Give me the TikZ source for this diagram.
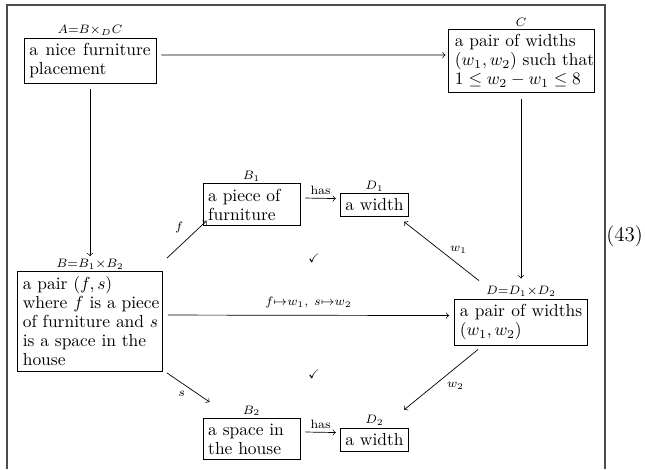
\documentclass[tikz,border=0pt]{standalone}
\usepackage{amsmath,amssymb}
\begin{document}
\begin{tikzpicture}[x=0.573pt,y=-0.573pt,
  box/.style={draw, inner xsep=3pt, inner ysep=3pt, font=\fontsize{10pt}{10.9pt}\selectfont},
  toplabel/.style={inner sep=1pt},
  arr/.style={->, line width=0.4pt},
  lab/.style={font=\scriptsize, inner sep=0pt, midway},
  frame/.style={draw=black!70, line width=0.6pt}]
\useasboundingbox (0,0) rectangle (645,469);
\draw[frame] (7,469) -- (7,5) -- (605,5) -- (605,469);

\node[box, text width=69.6pt, align=justify,
  label={[toplabel]above:$\scriptstyle A=B\times_D C$}] (A) at (90,60.5) {a nice furniture placement};
\node[box, text width=75.7pt, inner xsep=4pt, align=left,
  label={[toplabel]above:$\scriptstyle C$}] (C) at (521,61) {\mbox{a pair of widths}\\ \mbox{$(w_1,w_2)$ such that}\\ \mbox{$1\le w_2-w_1\le 8$}};
\node[box, text width=77pt, align=left,
  label={[toplabel]above:$\scriptstyle B=B_1\times B_2$}] (B) at (90,321.5) {\mbox{a pair $(f,s)$}\\ \mbox{where $f$ is a piece}\\ \mbox{of furniture and $s$}\\ \mbox{is a space in the}\\ \mbox{house}};
\node[box, text width=49.6pt, align=left,
  label={[toplabel]above:$\scriptstyle B_1$}] (B1) at (251.5,204.5) {\mbox{a piece of}\\ \mbox{furniture}};
\node[box, label={[toplabel]above:$\scriptstyle D_1$}] (D1) at (374.5,205) {a width};
\node[box, text width=70.2pt, align=justify,
  label={[toplabel]above:$\scriptstyle D=D_1\times D_2$}] (D) at (521,322) {a pair of widths $(w_1,w_2)$};
\node[box, text width=49.6pt, align=left,
  label={[toplabel]above:$\scriptstyle B_2$}] (B2) at (251.5,439) {\mbox{a space in}\\ \mbox{the house}};
\node[box, label={[toplabel]above:$\scriptstyle D_2$}] (D2) at (374.5,439.5) {a width};

\node (chk1) at (314,258) {$\scriptstyle\checkmark$};
\node (chk2) at (314,374) {$\scriptstyle\checkmark$};
\node[font=\large] (eqno) at (624.5,236) {(43)};

\draw[arr] ([xshift=2.9pt,yshift=3.15pt]A.east) -- ([xshift=-1.2pt,yshift=3.4pt]C.west);
\draw[arr] ([yshift=-3.4pt]A.south) -- ([yshift=8.6pt]B.north);
\draw[arr] ([yshift=-3.4pt]C.south) -- ([yshift=11.5pt]D.north);
\draw[arr] ([xshift=2.3pt,yshift=7.45pt]B.north east) -- ([xshift=2.3pt,yshift=2.9pt]B1.south west)
  node[lab, xshift=-4.3pt, yshift=6.9pt] {$f$};
\draw[arr] ([xshift=2.9pt,yshift=3.7pt]B.east) -- ([xshift=-2.9pt,yshift=3.7pt]D.west)
  node[lab, font=\normalsize, yshift=7.4pt] {$\scriptstyle f\mapsto w_1,\ s\mapsto w_2$};
\draw[arr] ([xshift=2.3pt,yshift=-0.6pt]B.south east) -- ([xshift=4pt,yshift=9.2pt]B2.north west)
  node[lab, xshift=-3.7pt, yshift=-3.7pt] {$s$};
\draw[arr] ([xshift=2.9pt,yshift=3.7pt]B1.east) -- ([xshift=-2.3pt,yshift=3.7pt]D1.west)
  node[lab, yshift=4.6pt] {has};
\draw[arr] ([xshift=2.9pt,yshift=4pt]B2.east) -- ([xshift=-2.3pt,yshift=4pt]D2.west)
  node[lab, yshift=4.6pt] {has};
\draw[arr] ([xshift=-24.1pt,yshift=10.3pt]D.north) -- ([xshift=-2.9pt,yshift=-2.9pt]D1.south east)
  node[lab, xshift=9.7pt, yshift=0.9pt] {$w_1$};
\draw[arr] ([xshift=-24.6pt,yshift=-2.3pt]D.south) -- ([xshift=-2.9pt,yshift=10.3pt]D2.north east)
  node[lab, xshift=8.3pt, yshift=-3.4pt] {$w_2$};
\end{tikzpicture}
\end{document}
